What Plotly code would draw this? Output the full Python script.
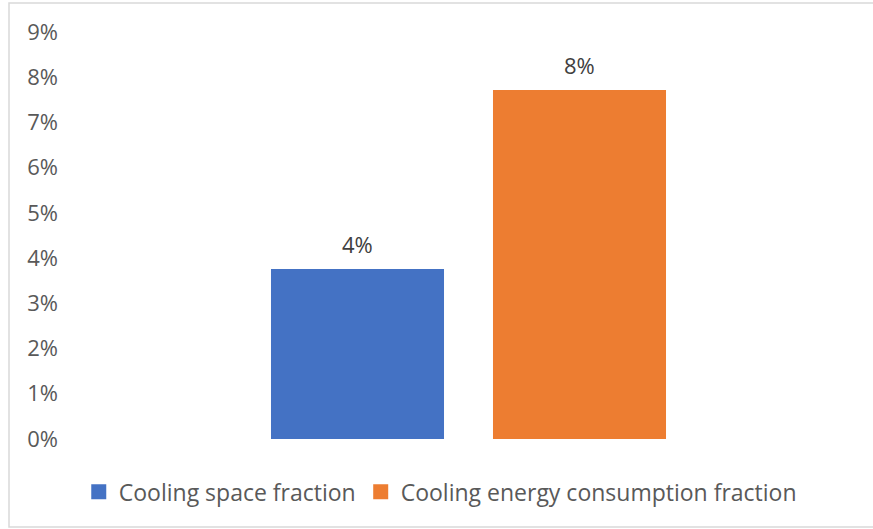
import plotly.graph_objects as go

# Series shares (fractions of the whole)
series_names = ["Cooling space fraction", "Cooling energy consumption fraction"]
series_values = [0.0376, 0.0772]
series_colors = ["#4472C4", "#ED7D31"]
tick_values = [i / 100 for i in range(10)]
tick_labels = [f"{i}%" for i in range(10)]

FONT = "Open Sans, Lato, Arial, sans-serif"

# bar geometry inside the single category slot (x from -0.5 to 0.5)
BAR_W = 0.2144
BAR_GAP = 0.0607
offsets = [-BAR_GAP / 2 - BAR_W, BAR_GAP / 2]

fig = go.Figure()
for name, val, col, off in zip(series_names, series_values, series_colors, offsets):
    fig.add_trace(go.Bar(
        x=[0], y=[val], name=name, showlegend=False,
        width=BAR_W, offset=off,
        marker=dict(color=col, line=dict(width=0)),
    ))
    # value label above the bar
    fig.add_annotation(
        x=off + BAR_W / 2, y=val, xref="x", yref="y",
        text=f"{val:.0%}", showarrow=False, yanchor="bottom", yshift=8,
        font=dict(family=FONT, size=22, color="#404040"),
    )
    # legend entry with a square swatch
    fig.add_trace(go.Scatter(
        x=[None], y=[None], mode="markers", name=name,
        marker=dict(symbol="square", size=15, color=col),
    ))

fig.update_layout(
    width=873, height=529,
    margin=dict(l=65, r=1, t=32, b=90),
    paper_bgcolor="white", plot_bgcolor="white",
    barmode="overlay",
    showlegend=True,
    legend=dict(orientation="h", x=0.465, xanchor="center", y=-0.13, yanchor="middle",
                font=dict(family=FONT, size=23, color="#595959"),
                itemwidth=30, traceorder="normal"),
    xaxis=dict(range=[-0.5, 0.5], visible=False, fixedrange=True),
    yaxis=dict(range=[0, 0.09], tickvals=tick_values, ticktext=tick_labels,
               showgrid=False, zeroline=False, showline=False, ticks="",
               tickfont=dict(family=FONT, size=22, color="#595959"), ticklabelstandoff=6),
    font=dict(family=FONT),
)

# Chart border
fig.add_shape(type="rect", xref="paper", yref="paper",
              x0=-0.0694, x1=1.02, y0=-0.216, y1=1.0713,
              line=dict(color="#D9D9D9", width=1.5), layer="below")

fig.write_html("out.html")
